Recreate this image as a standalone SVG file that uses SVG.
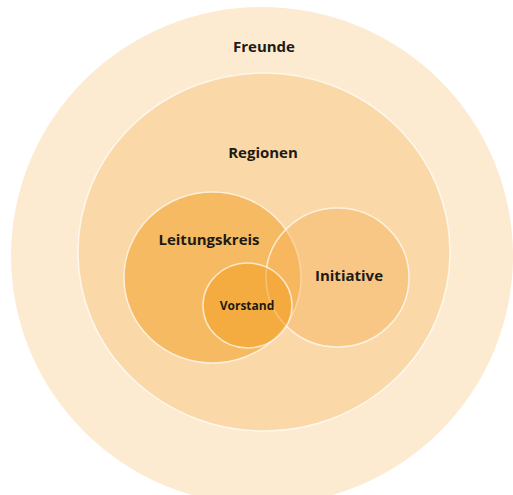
<svg xmlns="http://www.w3.org/2000/svg" width="513" height="495" viewBox="0 0 513 495">
<style>
.c{stroke:#fff;stroke-opacity:0.7;stroke-width:1.5}
.t{font-family:"Open Sans","DejaVu Sans",sans-serif;font-weight:bold;fill:#1e1a14;text-anchor:middle}
</style>
<rect width="513" height="495" fill="#ffffff"/>
<g id="freunde">
<ellipse cx="262" cy="256" rx="251" ry="249" fill="#FDEBD1"/>
<text class="t" x="264" y="52" font-size="15">Freunde</text>
</g>
<g id="regionen">
<ellipse class="c" cx="264" cy="252" rx="186" ry="179" fill="#FAD8A8"/>
<text class="t" x="263" y="158" font-size="15">Regionen</text>
</g>
<g id="leitungskreis">
<ellipse class="c" cx="212.5" cy="277.5" rx="88.5" ry="85.5" fill="#F6BA62"/>
<text class="t" x="209" y="245" font-size="15">Leitungskreis</text>
</g>
<g id="initiative">
<ellipse class="c" cx="337.5" cy="277.5" rx="71.5" ry="69.5" fill="#F8B45A" fill-opacity="0.45"/>
<text class="t" x="349" y="281" font-size="15">Initiative</text>
</g>
<g id="vorstand">
<ellipse class="c" cx="247.5" cy="305.5" rx="44.5" ry="42.5" fill="#F3A126" fill-opacity="0.55"/>
<text class="t" x="247" y="310" font-size="12">Vorstand</text>
</g>
<g id="connectors"></g>
</svg>
